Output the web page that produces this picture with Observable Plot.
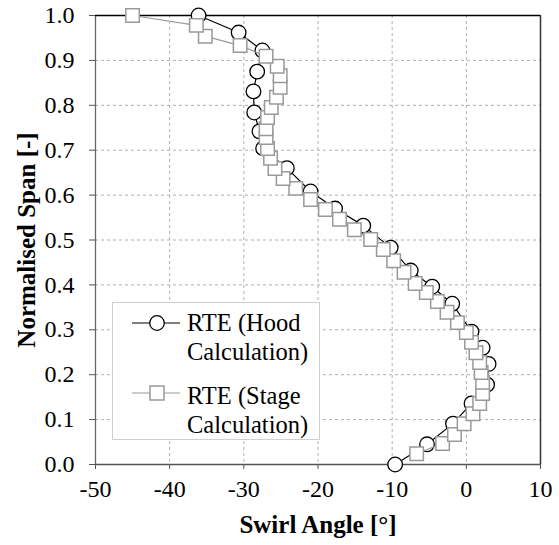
<!DOCTYPE html>
<html>
<head>
<meta charset="utf-8">
<script src="https://cdn.jsdelivr.net/npm/d3@7"></script>
<script src="https://cdn.jsdelivr.net/npm/@observablehq/plot@0.6"></script>
<style>
  body { margin: 0; background: #fff; }
  #wrap { position: relative; width: 559px; height: 545px; font-family: "Liberation Serif", "Times New Roman", Times, serif; }
  #wrap svg, #wrap svg text { font-family: "Liberation Serif", "Times New Roman", Times, serif !important; font-variant: normal !important; }
  g[aria-label="x-axis label"] text, g[aria-label="y-axis label"] text { font-weight: bold; font-size: 25px; }
  #legend { position: absolute; left: 112px; top: 302px; width: 206px; height: 136px; border: 1px solid #d0d0d0; background: #fff; }
  #legend .t { position: absolute; left: 74px; font-size: 24.5px; line-height: 29px; white-space: nowrap; color: #000; font-family: "Liberation Serif", "Times New Roman", Times, serif; }
  #legend svg { position: absolute; left: 0; top: 0; }
</style>
</head>
<body>
<div id="wrap"></div>
<script>
// Series 1: RTE (Hood Calculation)
const hoodAngle = [-9.6, -5.3, -1.8, 0.7, 2.8, 3.0, 2.2, 0.7, -1.9, -4.6, -7.5, -10.2, -13.9, -17.7, -21.0, -24.2, -27.4, -27.9, -28.6, -28.7, -28.2, -27.5, -30.7, -36.1];
const hoodSpan  = [0.0, 0.045, 0.091, 0.136, 0.178, 0.224, 0.26, 0.296, 0.358, 0.396, 0.432, 0.483, 0.532, 0.570, 0.608, 0.660, 0.704, 0.742, 0.784, 0.831, 0.875, 0.922, 0.962, 1.0];

// Series 2: RTE (Stage Calculation)
const stageAngle = [-6.7, -3.2, -1.6, -0.3, 0.9, 1.8, 2.2, 2.2, 2.0, 1.8, 1.3, 0.7, 0.0, -1.2, -2.6, -3.9, -5.4, -6.9, -8.4, -9.8, -11.2, -12.9, -15.1, -17.1, -19.0, -21.0, -23.0, -24.7, -25.8, -26.4, -26.8, -27.0, -27.0, -26.8, -26.3, -25.6, -25.1, -25.1, -25.5, -27.0, -30.5, -35.2, -36.4, -45.0];
const stageSpan  = [0.024, 0.047, 0.067, 0.091, 0.113, 0.136, 0.158, 0.183, 0.205, 0.227, 0.249, 0.272, 0.294, 0.316, 0.339, 0.363, 0.383, 0.403, 0.428, 0.454, 0.479, 0.501, 0.523, 0.546, 0.568, 0.590, 0.615, 0.637, 0.659, 0.682, 0.704, 0.728, 0.748, 0.773, 0.795, 0.818, 0.840, 0.866, 0.887, 0.909, 0.933, 0.954, 0.978, 1.0];

const xTicks = [-50, -40, -30, -20, -10, 0, 10];
const yTicks = [0, 0.1, 0.2, 0.3, 0.4, 0.5, 0.6, 0.7, 0.8, 0.9, 1.0];
const seriesNames = ["RTE (Hood\nCalculation)", "RTE (Stage\nCalculation)"];

const hood = hoodAngle.map((a, i) => ({angle: a, span: hoodSpan[i]}));
const stage = stageAngle.map((a, i) => ({angle: a, span: stageSpan[i]}));

const chart = Plot.plot({
  width: 559,
  height: 545,
  marginLeft: 95,
  marginRight: 19,
  marginTop: 15,
  marginBottom: 81,
  style: {fontFamily: "'Liberation Serif', 'Times New Roman', serif", fontSize: "24px", color: "#000", background: "#fff"},
  x: {domain: [-50, 10]},
  y: {domain: [0, 1]},
  marks: [
    Plot.gridX(xTicks, {stroke: "#b0b0b0", strokeOpacity: 1, strokeDasharray: "3,3"}),
    Plot.gridY(yTicks, {stroke: "#b0b0b0", strokeOpacity: 1, strokeDasharray: "3,3"}),
    Plot.axisX({ticks: xTicks, tickSize: 5, tickPadding: 10, fontSize: 24, tickFormat: d => String(d),
      label: "Swirl Angle [°]", labelAnchor: "center", labelOffset: 68, labelArrow: "none", stroke: "#555"}),
    Plot.axisY({ticks: yTicks, tickSize: 6, tickPadding: 15, fontSize: 24, tickFormat: d => d.toFixed(1),
      label: "Normalised Span [-]", labelAnchor: "center", labelOffset: 78, labelArrow: "none", stroke: "#555"}),
    Plot.ruleX([-50], {stroke: "#666", strokeWidth: 1.3}),
    Plot.ruleY([0], {stroke: "#555", strokeWidth: 1.3}),
    Plot.ruleY([1], {stroke: "#000", strokeWidth: 1.5}),
    Plot.ruleX([10], {stroke: "#333", strokeWidth: 1.5}),
    Plot.line(hood, {x: "angle", y: "span", stroke: "#000", strokeWidth: 1.2, curve: "linear"}),
    Plot.dot(hood, {x: "angle", y: "span", r: 7.3, fill: "#fff", stroke: "#000", strokeWidth: 1.3}),
    Plot.line(stage, {x: "angle", y: "span", stroke: "#999", strokeWidth: 1.2, curve: "linear"}),
    Plot.dot(stage, {x: "angle", y: "span", symbol: "square", r: 7.6, fill: "#fff", stroke: "#999", strokeWidth: 1.5})
  ]
});

const wrap = document.getElementById("wrap");
wrap.appendChild(chart);

// Legend
const legend = document.createElement("div");
legend.id = "legend";
legend.innerHTML = `
<svg width="206" height="136">
  <line x1="19" x2="67" y1="20" y2="20" stroke="#000" stroke-width="1.2"/>
  <circle cx="44" cy="20" r="7.3" fill="#fff" stroke="#000" stroke-width="1.3"/>
  <line x1="19" x2="67" y1="90" y2="90" stroke="#999" stroke-width="1.2"/>
  <rect x="37" y="83" width="14" height="14" fill="#fff" stroke="#999" stroke-width="1.5"/>
</svg>`;
const lines = seriesNames.flatMap(s => s.split("\n"));
const tops = [4.5, 33.5, 77.5, 106.5];
lines.forEach((txt, i) => {
  const d = document.createElement("div");
  d.className = "t";
  d.style.top = tops[i] + "px";
  d.textContent = txt;
  legend.appendChild(d);
});
wrap.appendChild(legend);
</script>
</body>
</html>
